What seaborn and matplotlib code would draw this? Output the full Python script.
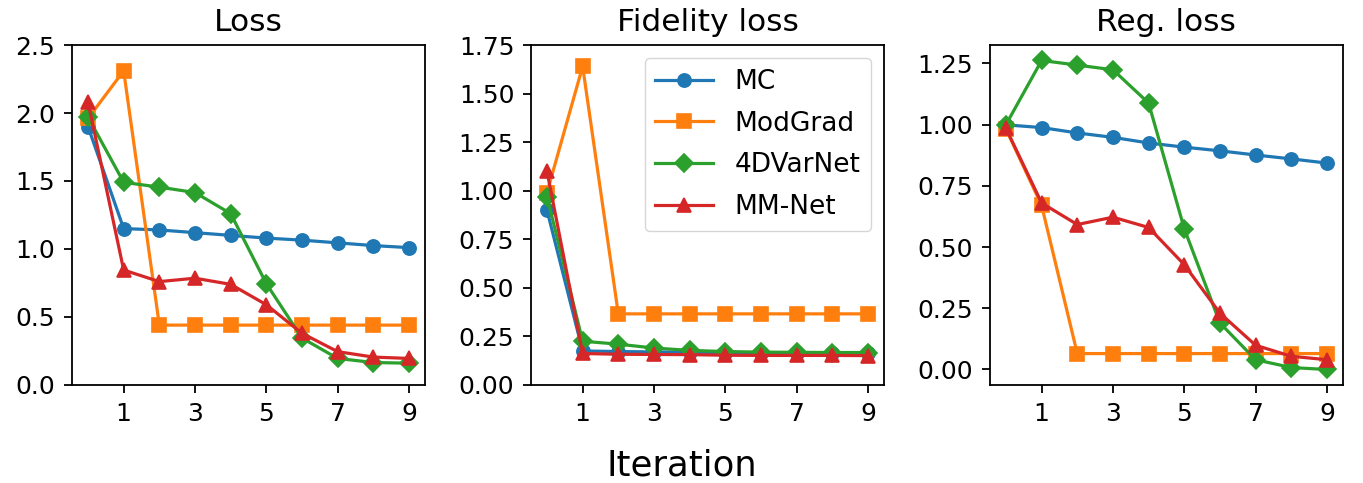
import numpy as np
import pandas as pd
import matplotlib
matplotlib.use("Agg")
import matplotlib.pyplot as plt
from matplotlib.ticker import MultipleLocator
import seaborn as sns

iterations = list(range(10))
methods = ["MC", "ModGrad", "4DVarNet", "MM-Net"]
titles = ["Loss", "Fidelity loss", "Reg. loss"]
xticks = [1, 3, 5, 7, 9]

loss_mc = [1.90, 1.15, 1.14, 1.12, 1.10, 1.08, 1.065, 1.045, 1.025, 1.01]
loss_modgrad = [1.96, 2.31, 0.44, 0.44, 0.44, 0.44, 0.44, 0.44, 0.44, 0.44]
loss_4dvar = [1.97, 1.49, 1.455, 1.415, 1.26, 0.745, 0.345, 0.195, 0.165, 0.16]
loss_mmnet = [2.08, 0.845, 0.76, 0.785, 0.74, 0.59, 0.38, 0.245, 0.205, 0.195]

fid_mc = [0.90, 0.175, 0.172, 0.170, 0.168, 0.167, 0.166, 0.165, 0.165, 0.164]
fid_modgrad = [0.99, 1.64, 0.366, 0.366, 0.366, 0.366, 0.366, 0.366, 0.366, 0.366]
fid_4dvar = [0.97, 0.225, 0.21, 0.19, 0.178, 0.172, 0.169, 0.168, 0.167, 0.167]
fid_mmnet = [1.10, 0.162, 0.158, 0.157, 0.156, 0.153, 0.152, 0.152, 0.152, 0.151]

reg_mc = [0.999, 0.988, 0.966, 0.948, 0.925, 0.908, 0.893, 0.876, 0.860, 0.843]
reg_modgrad = [0.982, 0.67, 0.065, 0.065, 0.065, 0.065, 0.065, 0.065, 0.065, 0.065]
reg_4dvar = [1.0, 1.262, 1.243, 1.224, 1.088, 0.575, 0.19, 0.04, 0.008, 0.0]
reg_mmnet = [0.985, 0.68, 0.592, 0.622, 0.58, 0.428, 0.23, 0.099, 0.054, 0.04]

panels = [
    [loss_mc, loss_modgrad, loss_4dvar, loss_mmnet],
    [fid_mc, fid_modgrad, fid_4dvar, fid_mmnet],
    [reg_mc, reg_modgrad, reg_4dvar, reg_mmnet],
]
ylims = [(0, 2.5), (0, 1.75), None]
ysteps = [0.5, 0.25, 0.25]

colors = ["#1f77b4", "#ff7f0e", "#2ca02c", "#d62728"]
markers = ["o", "s", "D", "^"]

plt.rcParams["font.family"] = ["DejaVu Sans"]
plt.rcParams["font.size"] = 18

fig, axes = plt.subplots(1, 3, figsize=(13.63, 4.83), dpi=100)
fig.subplots_adjust(left=0.0528, right=0.9853, top=0.9068, bottom=0.203, wspace=0.30)

for ax, series, title, ylim, ystep in zip(axes, panels, titles, ylims, ysteps):
    for name, vals, c, m in zip(methods, series, colors, markers):
        df = pd.DataFrame({"Iteration": iterations, "value": vals})
        sns.lineplot(data=df, x="Iteration", y="value", ax=ax, color=c,
                     marker=m, markersize=9.5, markeredgecolor=c, markeredgewidth=1.2,
                     linewidth=2.3, label=name, legend=False)
    ax.set_title(title, fontsize=22.5, pad=10)
    ax.set_xlabel("")
    ax.set_ylabel("")
    ax.set_xticks(xticks)
    ax.yaxis.set_major_locator(MultipleLocator(ystep))
    if ylim is not None:
        ax.set_ylim(*ylim)
    ax.tick_params(labelsize=18, length=6, width=1.3, pad=6)
    for s in ax.spines.values():
        s.set_linewidth(1.3)

axes[1].legend(loc="upper right", fontsize=19, handlelength=2.2, labelspacing=0.6)
fig.supxlabel("Iteration", fontsize=25.5, y=0.0)

fig.savefig("out.png", dpi=100)
